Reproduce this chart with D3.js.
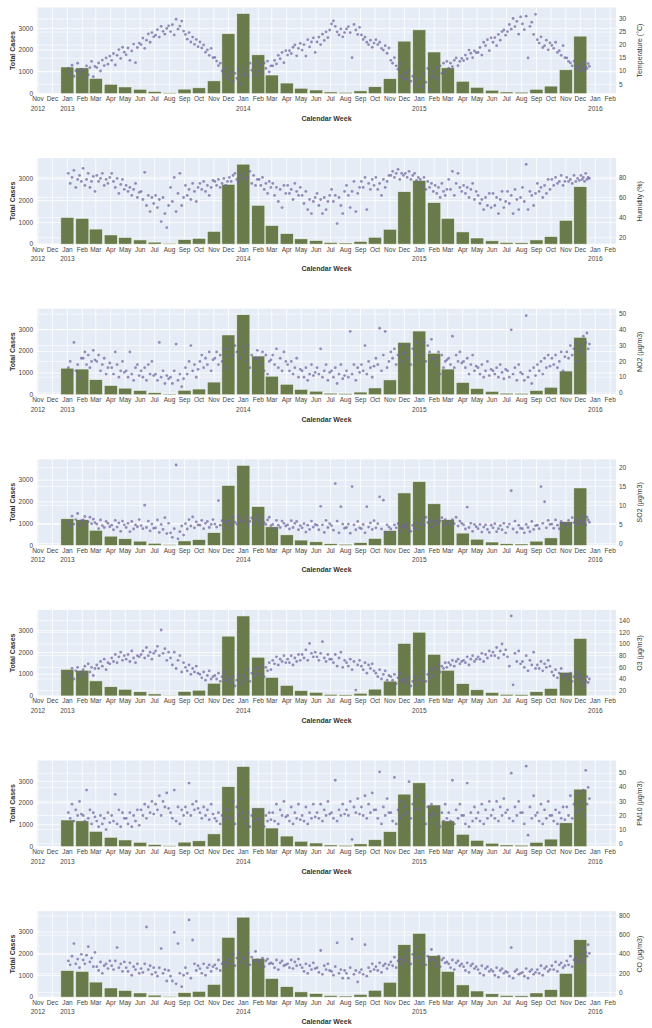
<!DOCTYPE html>
<meta charset="UTF-8">
<head>
<title>Cases vs environment</title>
<style>
  body { margin: 0; background: #fff; }
  text { font-family: "Liberation Sans", Arial, sans-serif; }
</style>
</head>
<body>
<svg width="652" height="1028"></svg>
<script src="https://d3js.org/d3.v7.min.js"></script>
<script>

// Monthly total cases, Jan 2013 .. Dec 2015
var cases = [
  1220, 1180, 690, 420, 300, 190, 90, 30, 200, 260, 580, 2750,
  3680, 1780, 850, 480, 240, 160, 70, 50, 120, 310, 680, 2410,
  2930, 1910, 1180, 560, 280, 150, 70, 60, 190, 340, 1090, 2640
];

// Environmental readings, 8 readings per month, Jan 2013 .. Dec 2015
var temperature = [
  [11.2,9.4,12.3,8.1,10.2,13.1,8.8,10.7],[10.3,7.2,12.1,8.6,11.4,13.8,7.9,11.9],[11.4,13.2,10.1,14.3,12.2,15.1,12.7,15.8],[14.2,16.8,12.4,16.1,18.3,14.9,19.2,17.3],
  [16.3,18.9,14.2,17.8,20.4,13.3,19.1,20.8],[20.2,22.7,18.8,21.9,24.3,21.1,24.8,23.2],[23.8,25.9,23.1,27.2,25.3,24.2,26.4,27.4],[25.2,27.8,23.9,29.9,26.1,27.3,29.2,25.4],
  [24.1,22.3,24.8,21.2,23.1,20.3,22.2,19.4],[21.2,18.9,20.1,17.3,18.2,16.1,18.8,15.2],[15.3,13.9,12.2,13.1,10.1,8.9,11.2,7.3],[8.2,9.8,6.1,9.2,7.3,10.8,5.2,8.7],
  [9.1,11.2,8.3,13.1,10.4,12.2,8.8,13.7],[10.2,12.3,9.1,13.2,11.1,13.9,9.8,12.1],[12.1,14.2,12.8,16.1,14.8,17.2,13.3,17.9],[16.2,17.9,16.8,19.2,20.1,15.9,18.8,20.7],
  [18.1,20.2,15.8,22.1,19.3,21.2,22.8,17.2],[21.2,23.1,20.2,24.2,21.8,25.1,22.9,25.8],[28.1,29.3,27.2,25.1,23.9,26.2,23.2,24.8],[26.2,27.1,24.8,15.2,27.9,25.8,24.1,26.8],
  [23.9,22.2,23.1,21.1,20.2,21.9,19.2,20.8],[22.1,20.2,21.1,18.8,18.1,19.8,16.9,18.9],[14.2,13.1,15.2,12.1,10.8,12.9,8.2,7.1],[9.2,7.1,10.1,6.2,8.1,5.2,6.8,4.1],
  [7.2,4.1,9.1,5.8,11.1,3.1,7.8,9.8],[8.1,11.2,6.9,12.1,9.2,13.1,9.8,13.8],[11.2,13.1,11.8,14.2,15.1,12.2,13.8,14.9],[14.1,16.2,14.8,18.1,16.9,15.2,17.8,17.1],
  [17.2,19.1,16.2,21.1,19.8,22.1,17.9,22.8],[21.1,22.9,19.8,24.1,21.9,25.2,25.8,23.8],[25.2,27.9,26.1,30.2,27.1,29.1,24.2,30.8],[28.1,25.9,31.1,15.1,27.2,28.8,24.1,31.8],
  [22.1,20.8,23.2,19.1,19.8,21.9,18.2,20.9],[19.9,18.8,21.1,17.2,17.9,16.1,19.8,15.2],[15.1,13.8,13.2,12.1,13.9,11.2,11.8,10.2],[12.1,10.9,13.2,10.1,11.8,11.1,12.9,11.9]
];
var humidity = [
  [84,74,80,87,70,78,82,76],[89,72,78,84,70,76,81,66],[82,76,79,84,72,78,74,80],[84,76,70,79,64,73,78,68],
  [72,66,70,62,68,74,60,65],[66,58,85,52,62,46,60,54],[62,50,58,36,60,44,30,52],[70,56,80,46,64,84,52,60],
  [72,62,68,58,74,66,56,70],[74,68,76,66,72,62,70,77],[76,72,78,70,74,79,72,76],[80,76,82,84,78,75,82,79],
  [84,78,80,86,74,82,72,78],[78,72,80,68,74,64,76,70],[74,62,70,56,68,50,72,64],[72,64,68,58,74,66,62,70],
  [62,54,66,48,58,44,56,60],[64,52,58,44,60,48,56,62],[68,56,62,34,60,52,44,66],[72,62,50,66,76,46,64,70],
  [76,70,80,48,74,68,78,72],[80,68,74,62,78,70,76,82],[82,86,80,84,88,78,84,82],[84,80,86,78,82,84,77,80],
  [78,72,80,68,76,70,74,66],[72,64,70,60,74,66,62,68],[78,68,86,62,74,84,70,66],[72,64,70,60,68,74,58,66],
  [62,54,58,48,60,52,64,50],[64,52,60,44,58,66,50,56],[66,54,62,44,68,58,48,60],[70,56,93,48,66,62,52,64],
  [74,66,70,60,72,64,78,68],[78,72,80,74,76,82,72,76],[80,76,78,74,82,76,79,77],[82,78,80,76,84,78,80,79]
];
var no2 = [
  [16,20,12,32,14,18,10,22],[22,26,18,24,16,20,27,21],[20,24,14,18,22,12,16,19],[16,12,26,18,10,14,20,13],
  [14,10,26,12,8,16,18,11],[14,10,16,8,18,12,20,11],[12,8,32,10,14,6,11,9],[10,6,14,31,8,12,4,9],
  [16,12,20,30,14,18,10,15],[20,24,16,22,18,26,14,21],[22,26,18,24,20,28,16,23],[28,34,24,30,26,36,22,29],
  [26,20,30,16,24,14,22,27],[22,18,26,14,24,12,20,21],[24,18,28,16,22,14,26,20],[18,14,20,12,16,22,10,15],
  [14,10,16,8,12,18,11,13],[16,12,28,10,14,18,8,13],[14,10,16,6,12,18,9,11],[14,10,39,12,18,8,16,13],
  [18,14,30,12,20,16,10,17],[22,18,41,14,24,39,16,20],[26,22,28,18,24,30,20,25],[26,22,30,18,28,24,32,21],
  [28,24,32,20,30,26,34,22],[22,18,26,12,24,16,20,21],[22,18,36,16,24,20,26,19],[20,16,22,12,18,24,14,17],
  [16,12,18,10,14,20,11,15],[14,12,16,10,18,13,9,15],[14,10,40,12,16,8,18,13],[12,8,49,10,14,6,16,11],
  [18,14,20,12,22,16,24,17],[22,18,24,16,20,26,14,23],[26,22,30,24,28,32,20,27],[30,26,36,24,32,38,28,31]
];
var so2 = [
  [5.8,4.6,7.2,5.1,6.3,7.9,4.9,6.0],[6.2,7.1,4.8,5.7,6.9,5.2,6.4,5.5],[5.1,3.9,6.2,4.7,4.2,5.8,5.3,4.4],[4.8,3.6,6.1,4.3,5.4,3.2,5.9,4.9],
  [4.2,5.3,3.1,5.8,3.8,4.9,4.4,6.3],[4.7,3.9,10.1,4.2,5.9,3.3,5.1,4.0],[4.1,6.2,2.9,5.0,3.7,6.8,2.6,5.3],[2.8,1.6,3.9,20.7,1.2,3.1,4.6,2.2],
  [5.2,3.8,6.3,4.6,7.0,4.1,5.7,4.9],[4.8,6.1,3.9,5.3,5.8,4.2,5.0,6.3],[5.1,4.3,11.3,4.8,6.0,3.9,5.4,5.8],[5.9,4.8,6.9,5.6,5.1,7.2,6.1,5.7],
  [6.1,7.0,4.9,5.8,6.7,5.2,6.3,7.3],[5.8,4.9,6.8,5.5,5.0,6.2,6.9,4.7],[5.0,3.9,6.1,4.8,4.2,5.9,5.3,4.6],[4.9,3.8,6.0,4.2,5.3,5.8,3.6,4.7],
  [4.1,5.2,3.0,4.8,3.7,5.9,4.3,5.0],[4.8,3.6,9.8,4.9,2.9,6.1,4.2,5.2],[4.7,3.5,15.8,5.9,2.8,9.7,5.1,4.0],[4.2,5.1,2.7,15.0,4.9,3.6,5.8,4.1],
  [3.9,5.0,2.8,9.7,4.3,5.4,3.7,6.0],[4.1,5.2,12.3,3.8,11.4,2.9,4.9,4.3],[3.8,2.9,4.9,4.1,5.2,3.3,4.4,4.8],[4.2,5.1,3.9,3.2,4.8,4.0,5.3,3.7],
  [5.2,6.3,4.8,6.9,5.5,6.1,4.3,5.9],[5.0,6.2,5.4,5.9,6.8,4.7,6.3,5.2],[5.8,4.9,6.3,5.2,6.9,4.6,5.9,5.3],[4.9,3.8,9.6,4.2,5.3,3.2,5.0,4.4],
  [3.9,5.0,3.0,4.3,4.9,3.7,2.9,4.8],[4.1,5.2,3.1,3.9,4.7,3.6,5.3,2.8],[4.3,5.1,13.9,3.8,5.9,2.9,4.8,4.0],[3.9,2.8,5.0,4.2,3.1,5.8,3.7,4.7],
  [4.8,3.9,15.0,5.3,11.0,4.1,6.1,5.0],[5.1,4.0,6.2,4.8,3.9,5.8,5.3,4.7],[5.3,6.1,4.9,6.8,5.5,6.3,5.0,5.9],[6.0,5.2,7.1,5.8,4.9,6.9,6.2,5.6]
];
var o3 = [
  [50,44,58,40,54,60,46,52],[56,62,48,66,52,60,46,58],[64,58,70,62,74,56,68,66],[76,70,82,68,78,86,72,80],
  [74,82,70,88,76,68,80,78],[82,88,76,94,80,86,74,84],[88,96,80,124,84,92,72,86],[76,64,86,58,72,80,52,68],
  [60,54,64,48,58,52,62,50],[48,42,52,38,46,54,40,44],[46,40,50,36,44,52,38,45],[40,34,44,28,38,46,32,36],
  [46,40,56,36,50,44,58,48],[58,50,64,44,60,54,68,56],[72,66,78,64,74,70,80,68],[74,68,80,64,76,70,82,72],
  [82,76,90,72,101,84,78,86],[78,72,84,104,76,70,82,74],[74,68,82,62,76,86,60,72],[68,62,74,56,70,21,64,72],
  [62,56,68,50,64,58,66,54],[50,44,56,40,48,54,38,46],[44,38,48,32,42,50,36,40],[38,32,42,28,36,44,30,38],
  [44,38,52,36,48,42,56,46],[60,56,66,52,62,58,68,60],[68,64,72,62,70,74,66,70],[72,68,78,64,74,80,70,74],
  [78,74,84,70,82,76,88,80],[86,80,94,76,88,100,82,90],[78,62,148,30,84,70,88,66],[70,60,80,54,72,64,86,58],
  [64,58,70,54,66,60,72,62],[52,46,56,42,50,58,44,48],[46,40,50,36,44,52,42,46],[38,32,42,28,36,44,34,40]
];
var pm10 = [
  [22,18,28,16,24,20,30,21],[20,16,38,18,24,14,22,19],[16,12,20,14,18,10,22,15],[20,16,35,14,24,12,22,18],
  [18,14,22,12,20,16,24,13],[24,20,28,18,26,22,30,21],[28,24,34,20,30,26,36,25],[22,18,38,16,26,14,24,20],
  [26,22,43,20,28,24,30,25],[22,18,26,20,24,17,28,21],[18,16,22,14,20,17,24,19],[24,18,30,14,26,20,32,22],
  [18,14,22,12,20,16,24,17],[18,14,24,12,20,16,22,17],[22,16,28,14,24,20,30,19],[20,16,26,14,22,18,28,17],
  [20,16,26,14,22,18,28,19],[22,18,28,16,24,20,30,21],[22,18,45,16,24,20,28,21],[24,20,30,3,26,22,32,21],
  [26,20,34,18,28,22,36,24],[24,18,51,14,26,20,32,22],[22,16,47,14,24,18,30,20],[26,22,44,18,28,24,34,25],
  [24,18,30,14,26,20,28,22],[20,14,26,12,22,16,28,18],[22,16,45,14,24,18,28,20],[20,14,43,12,22,16,26,18],
  [22,16,28,14,24,18,30,20],[24,18,30,16,26,20,32,22],[24,18,50,16,26,20,30,22],[22,14,55,6,26,18,34,20],
  [22,16,28,14,24,18,30,20],[20,16,24,14,22,18,26,17],[26,20,34,18,28,22,36,24],[30,24,38,20,52,28,40,32]
];
var co = [
  [330,290,380,512,300,350,260,400],[340,300,390,480,320,360,270,420],[270,230,320,200,280,300,250,330],[280,240,330,470,260,300,220,320],
  [260,220,310,180,270,240,300,200],[250,210,300,686,240,280,190,260],[210,170,260,460,200,240,120,230],[170,120,630,90,512,200,60,180],
  [260,200,760,150,550,300,230,280],[250,200,300,180,260,290,220,270],[290,250,340,230,300,320,270,310],[350,300,400,280,360,420,320,370],
  [350,300,410,290,370,330,430,340],[320,280,360,270,330,350,300,310],[300,260,340,240,310,330,280,290],[300,260,340,250,320,280,350,290],
  [260,220,300,200,280,240,310,250],[260,210,440,190,280,240,300,230],[220,180,270,520,200,240,150,230],[200,150,260,560,190,230,110,210],
  [240,190,500,170,260,220,300,240],[270,230,310,210,280,300,250,290],[320,280,370,260,330,350,300,340],[380,330,440,300,400,360,480,370],
  [360,310,420,290,380,340,450,350],[330,290,380,270,340,360,310,320],[300,260,340,240,310,330,280,300],[270,230,310,210,280,300,250,270],
  [240,200,280,180,250,270,220,240],[220,180,260,160,230,250,200,220],[210,170,470,150,220,240,190,200],[210,170,250,150,220,240,190,210],
  [240,200,280,180,250,270,220,240],[280,240,320,220,290,310,260,280],[330,290,380,270,340,360,310,330],[400,350,460,320,420,380,500,410]
];

var caseTicks = [0, 1000, 2000, 3000];

var panels = [
  { title: "Temperature (°C)", values: temperature, domain: [1.5, 34.4], ticks: [5, 10, 15, 20, 25, 30] },
  { title: "Humidity (%)",     values: humidity,    domain: [13.6, 99.2], ticks: [20, 40, 60, 80] },
  { title: "NO2 (µg/m3)",      values: no2,         domain: [-1.1, 53.4], ticks: [0, 10, 20, 30, 40, 50] },
  { title: "SO2 (µg/m3)",      values: so2,         domain: [-0.5, 22.2], ticks: [0, 5, 10, 15, 20] },
  { title: "O3 (µg/m3)",       values: o3,          domain: [11, 158.5],  ticks: [20, 40, 60, 80, 100, 120, 140] },
  { title: "PM10 (µg/m3)",     values: pm10,        domain: [-2, 59],     ticks: [0, 10, 20, 30, 40, 50] },
  { title: "CO (µg/m3)",       values: co,          domain: [-49, 853],   ticks: [0, 200, 400, 600, 800] }
];

var svg = d3.select("svg");
var left = 37, right = 616, plotH = 86, step = 150.6, firstTop = 7.5;

var months = d3.utcMonths(new Date(Date.UTC(2013, 0, 1)), new Date(Date.UTC(2016, 0, 1)));
var tickMonths = d3.utcMonths(new Date(Date.UTC(2012, 10, 1)), new Date(Date.UTC(2016, 1, 2)));

var x = d3.scaleUtc()
    .domain([new Date(Date.UTC(2012, 9, 30)), new Date(Date.UTC(2016, 1, 13))])
    .range([left, right]);

var DAY = 864e5;
var barW = x(new Date(Date.UTC(2013, 0, 28))) - x(new Date(Date.UTC(2013, 0, 1)));
var fmtMonth = d3.utcFormat("%b"), fmtYear = d3.utcFormat("%Y");

// spread readings of a month across its days (last month of data stops around the 20th)
function readings(values) {
  var pts = [];
  values.forEach(function(row, m) {
    var start = months[m];
    var span = m === months.length - 1 ? 20 : (d3.utcMonth.offset(start, 1) - start) / DAY;
    row.forEach(function(v, k) {
      pts.push({ date: new Date(+start + (k + 0.5) * span / row.length * DAY), value: v });
    });
  });
  return pts;
}

panels.forEach(function(p, i) {
  var top = firstTop + i * step, bottom = top + plotH;
  var g = svg.append("g");

  var y = d3.scaleLinear().domain([0, 3960]).range([bottom, top]);
  var y2 = d3.scaleLinear().domain(p.domain).range([bottom, top]);

  g.append("rect")
      .attr("x", left).attr("y", top)
      .attr("width", right - left).attr("height", plotH)
      .attr("fill", "#e5ecf6");

  // grid
  g.selectAll(".vg").data(tickMonths).enter().append("line")
      .attr("x1", function(d) { return x(d); }).attr("x2", function(d) { return x(d); })
      .attr("y1", top).attr("y2", bottom)
      .attr("stroke", "#fff").attr("stroke-width", 0.8);
  g.selectAll(".hg").data(caseTicks).enter().append("line")
      .attr("x1", left).attr("x2", right)
      .attr("y1", function(d) { return y(d); }).attr("y2", function(d) { return y(d); })
      .attr("stroke", "#fff").attr("stroke-width", 0.8);
  g.selectAll(".hg2").data(p.ticks).enter().append("line")
      .attr("x1", left).attr("x2", right)
      .attr("y1", function(d) { return y2(d); }).attr("y2", function(d) { return y2(d); })
      .attr("stroke", "#fff").attr("stroke-width", 0.6);

  // bars
  g.selectAll(".bar").data(cases).enter().append("rect")
      .attr("x", function(d, j) { return x(months[j]) - barW / 2; })
      .attr("y", function(d) { return y(d); })
      .attr("width", barW)
      .attr("height", function(d) { return y(0) - y(d); })
      .attr("fill", "#6a7b4b")
      .attr("stroke", "#eef1e8").attr("stroke-width", 0.5);

  // readings
  g.selectAll(".pt").data(readings(p.values)).enter().append("circle")
      .attr("cx", function(d) { return x(d.date); })
      .attr("cy", function(d) { return y2(d.value); })
      .attr("r", 1.4)
      .attr("fill", "rgb(112,100,160)")
      .attr("fill-opacity", 0.72);

  // x tick labels
  g.selectAll(".mt").data(tickMonths).enter().append("text")
      .attr("x", function(d) { return x(d); })
      .attr("y", bottom + 7.5)
      .attr("text-anchor", "middle")
      .attr("font-size", 6.5).attr("fill", "#444")
      .text(function(d) { return fmtMonth(d); });
  g.selectAll(".yt").data(tickMonths.filter(function(d, j) { return j === 0 || d.getUTCMonth() === 0; }))
    .enter().append("text")
      .attr("x", function(d) { return x(d); })
      .attr("y", bottom + 17)
      .attr("text-anchor", "middle")
      .attr("font-size", 6.5).attr("fill", "#444")
      .text(function(d) { return fmtYear(d); });

  // left ticks
  g.selectAll(".lt").data(caseTicks).enter().append("text")
      .attr("x", left - 4)
      .attr("y", function(d) { return y(d) + 2.2; })
      .attr("text-anchor", "end")
      .attr("font-size", 6.5).attr("fill", "#444")
      .text(function(d) { return d; });

  // right ticks
  g.selectAll(".rt").data(p.ticks).enter().append("text")
      .attr("x", right + 3)
      .attr("y", function(d) { return y2(d) + 2.2; })
      .attr("text-anchor", "start")
      .attr("font-size", 6.5).attr("fill", "#444")
      .text(function(d) { return d; });

  // axis titles
  g.append("text")
      .attr("transform", "translate(15," + (top + plotH / 2) + ") rotate(-90)")
      .attr("text-anchor", "middle")
      .attr("font-size", 7).attr("font-weight", "bold").attr("fill", "#333")
      .text("Total Cases");
  g.append("text")
      .attr("transform", "translate(642," + (top + plotH / 2) + ") rotate(-90)")
      .attr("text-anchor", "middle")
      .attr("font-size", 7).attr("fill", "#333")
      .text(p.title);
  g.append("text")
      .attr("x", (left + right) / 2)
      .attr("y", bottom + 27)
      .attr("text-anchor", "middle")
      .attr("font-size", 7).attr("font-weight", "bold").attr("fill", "#333")
      .text("Calendar Week");
});

</script>
</body>
